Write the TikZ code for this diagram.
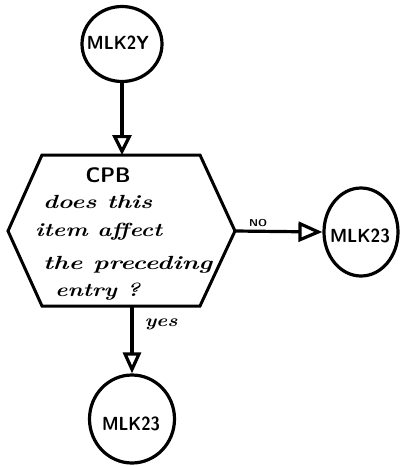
\documentclass[tikz,border=0pt]{standalone}
\usepackage{graphicx}
\usetikzlibrary{arrows.meta,shapes.geometric}
\begin{document}
\begin{tikzpicture}[x=1pt,y=-1pt,
  conn/.style={draw, ellipse, line width=3.2pt, inner sep=0pt},
  lab/.style={inner sep=0pt, font=\sffamily\bfseries\fontsize{19}{19}\selectfont},
  hand/.style={inner sep=0pt, anchor=west, font=\bfseries\itshape\fontsize{19}{19}\selectfont},
  flow/.style={line width=3.2pt},
  tipa/.style={-{Triangle[open, length=20pt, width=19pt]}}
]
\useasboundingbox (0,0) rectangle (402,466);

% connector circles
\node[conn, minimum width=80pt, minimum height=75pt] (c1) at (122,44) {};
\node[lab] (t1) at (118,43) {\resizebox{62pt}{\height}{MLK2Y}};
\node[conn, minimum width=74pt, minimum height=88pt] (c2) at (361,232) {};
\node[lab] (t2) at (360,236) {\resizebox{60pt}{\height}{MLK23}};
\node[conn, minimum width=85pt, minimum height=88pt] (c3) at (132,419) {};
\node[lab] (t3) at (131,424) {\resizebox{58pt}{\height}{MLK23}};

% decision hexagon
\draw[line width=3pt, line join=miter] (42,155) -- (200,155) -- (235,231) -- (200,306) -- (42,306) -- (8,231) -- cycle;
\coordinate (htop) at (122,155);
\coordinate (hright) at (235,231);
\coordinate (hbot) at (132,306);

\node[inner sep=0pt, font=\sffamily\bfseries\fontsize{21}{21}\selectfont] (cpb) at (108,175) {\resizebox{45pt}{\height}{CPB}};
\node[hand] (l1) at (43,202) {\resizebox{109pt}{\height}{does this}};
\node[hand] (l2) at (35,232) {\resizebox{127pt}{\height}{item affect}};
\node[hand] (l3) at (43,265) {\resizebox{169pt}{\height}{the preceding}};
\node[hand] (l4) at (55,292) {\resizebox{85pt}{\height}{entry ?}};

% flow lines
\draw[flow, tipa] (c1.south) -- (htop);
\draw[flow, -{Triangle[open, length=24pt, width=20pt]}] (hright) -- (c2.west);
\draw[flow, -{Triangle[open, length=21pt, width=18pt]}] (hbot) -- (c3.north);

\node[inner sep=0pt, font=\sffamily\bfseries\fontsize{10}{10}\selectfont] (no) at (258,223) {\resizebox{18pt}{\height}{NO}};
\node[inner sep=0pt, font=\itshape\bfseries\fontsize{17}{17}\selectfont] (yes) at (161,324) {\resizebox{33pt}{\height}{yes}};
\end{tikzpicture}
\end{document}
